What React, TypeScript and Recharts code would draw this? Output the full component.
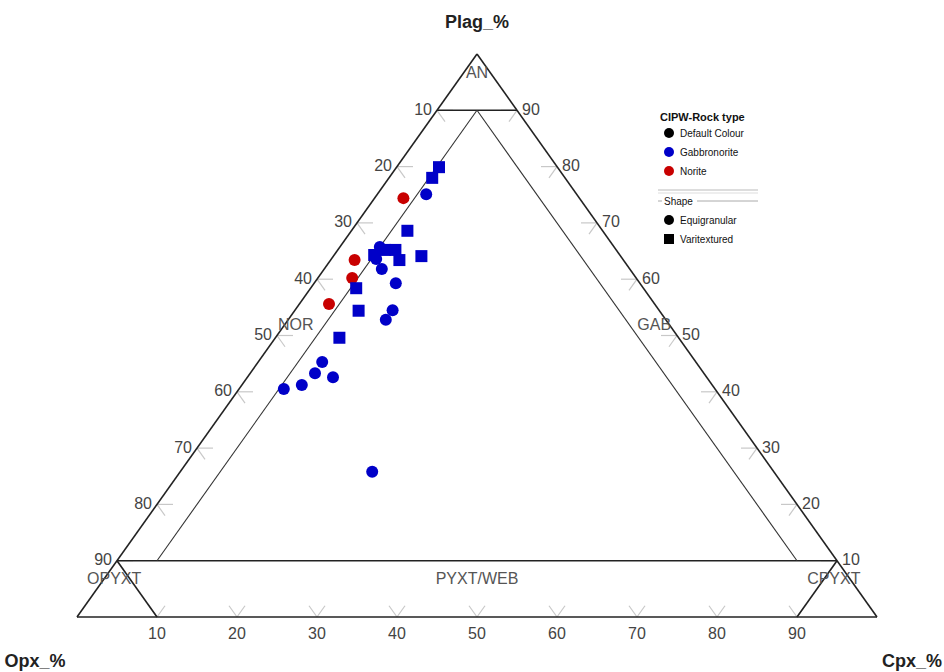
import React from 'react';
import { ScatterChart, Scatter, XAxis, YAxis, ReferenceLine, ReferenceDot } from 'recharts';

// Ternary values: Plag, Opx, Cpx (%)
const noriteEquigranular = [
  { plag: 74.4, opx: 22.0, cpx: 3.6 },
  { plag: 63.4, opx: 33.6, cpx: 3.0 },
  { plag: 60.2, opx: 35.5, cpx: 4.3 },
  { plag: 55.6, opx: 40.7, cpx: 3.7 },
];

const gabbronoriteEquigranular = [
  { plag: 75.1, opx: 18.8, cpx: 6.1 },
  { plag: 65.7, opx: 29.3, cpx: 5.0 },
  { plag: 63.6, opx: 30.8, cpx: 5.6 },
  { plag: 61.8, opx: 31.0, cpx: 7.2 },
  { plag: 59.3, opx: 30.5, cpx: 10.2 },
  { plag: 54.5, opx: 33.3, cpx: 12.2 },
  { plag: 52.8, opx: 35.0, cpx: 12.2 },
  { plag: 45.3, opx: 46.7, cpx: 8.0 },
  { plag: 43.3, opx: 48.6, cpx: 8.1 },
  { plag: 42.6, opx: 46.7, cpx: 10.7 },
  { plag: 41.2, opx: 51.3, cpx: 7.5 },
  { plag: 40.5, opx: 53.9, cpx: 5.6 },
  { plag: 25.8, opx: 50.2, cpx: 24.0 },
];

const gabbronoriteVaritextured = [
  { plag: 79.9, opx: 14.8, cpx: 5.3 },
  { plag: 78.0, opx: 16.6, cpx: 5.4 },
  { plag: 68.6, opx: 24.4, cpx: 7.0 },
  { plag: 64.3, opx: 30.7, cpx: 5.0 },
  { plag: 65.2, opx: 28.9, cpx: 5.9 },
  { plag: 65.2, opx: 27.6, cpx: 7.2 },
  { plag: 63.4, opx: 28.0, cpx: 8.6 },
  { plag: 64.1, opx: 24.9, cpx: 11.0 },
  { plag: 58.4, opx: 35.9, cpx: 5.7 },
  { plag: 54.4, opx: 37.6, cpx: 8.0 },
  { plag: 49.6, opx: 42.4, cpx: 8.0 },
];

// Axis tick labels
const opxTicks = [10, 20, 30, 40, 50, 60, 70, 80, 90];
const plagTicks = [10, 20, 30, 40, 50, 60, 70, 80, 90];
const cpxTicks = [10, 20, 30, 40, 50, 60, 70, 80, 90];

// Field boundaries as ternary end points [plag, opx, cpx]
const boundaryLines = [
  { a: [100, 0, 0], b: [0, 100, 0], outer: true },
  { a: [0, 100, 0], b: [0, 0, 100], outer: true },
  { a: [0, 0, 100], b: [100, 0, 0], outer: true },
  { a: [90, 10, 0], b: [90, 0, 10], outer: true },
  { a: [10, 90, 0], b: [10, 0, 90], outer: true },
  { a: [90, 5, 5], b: [10, 85, 5], outer: false },
  { a: [90, 5, 5], b: [10, 5, 85], outer: false },
  { a: [10, 90, 0], b: [0, 90, 10], outer: true },
  { a: [10, 0, 90], b: [0, 10, 90], outer: true },
];

// Field names, placed by ternary position [plag, opx, cpx]
const fieldNames = [
  { text: 'AN', t: [96.8, 1.6, 1.6] },
  { text: 'NOR', t: [51.9, 46.7, 1.4] },
  { text: 'GAB', t: [51.9, 1.9, 46.2] },
  { text: 'OPYXT', t: [6.9, 91.9, 1.2] },
  { text: 'PYXT/WEB', t: [6.9, 46.55, 46.55] },
  { text: 'CPYXT', t: [6.9, 1.95, 91.15] },
];

const toXY = (plag: number, opx: number, cpx: number) => {
  const s = plag + opx + cpx;
  const p = (plag / s) * 100;
  const c = (cpx / s) * 100;
  return { x: c + p / 2, y: p };
};
const tXY = (t: number[]) => toXY(t[0], t[1], t[2]);
const pts = (arr: { plag: number; opx: number; cpx: number }[]) =>
  arr.map((d) => toXY(d.plag, d.opx, d.cpx));

const BLUE = '#0000c8';
const RED = '#c80000';
const TICK = '#c8c8c8';
const FONT = '"Liberation Sans", Arial, sans-serif';

const W = 944;
const H = 672;
const margin = { top: 54, right: 67, bottom: 55, left: 77 };

const Circle = (color: string) => (props: any) =>
  <circle cx={props.cx} cy={props.cy} r={6} fill={color} />;
const Square = (color: string) => (props: any) =>
  <rect x={props.cx - 6} y={props.cy - 6} width={12} height={12} fill={color} />;

const textShape =
  (text: string, opts: { dx?: number; dy?: number; anchor?: string; size?: number; weight?: string; color?: string }) =>
  (props: any) =>
    (
      <text
        x={props.cx + (opts.dx || 0)}
        y={props.cy + (opts.dy || 0)}
        textAnchor={opts.anchor || 'middle'}
        dominantBaseline="central"
        fontFamily={FONT}
        fontSize={opts.size || 16}
        fontWeight={opts.weight || 'normal'}
        fill={opts.color || '#444'}
      >
        {text}
      </text>
    );

const seg = (a: { x: number; y: number }, b: { x: number; y: number }) => [a, b];

export default function App() {
  const tickSegs: { a: { x: number; y: number }; b: { x: number; y: number } }[] = [];
  opxTicks.forEach((v) => {
    const p = tXY([100 - v, v, 0]);
    tickSegs.push({ a: p, b: tXY([100 - v, v - 2, 2]) });
    tickSegs.push({ a: p, b: tXY([98 - v, v, 2]) });
  });
  plagTicks.forEach((v) => {
    const p = tXY([v, 0, 100 - v]);
    tickSegs.push({ a: p, b: tXY([v, 2, 98 - v]) });
    tickSegs.push({ a: p, b: tXY([v - 2, 2, 100 - v]) });
  });
  cpxTicks.forEach((v) => {
    const p = tXY([0, 100 - v, v]);
    tickSegs.push({ a: p, b: tXY([2, 100 - v, v - 2]) });
    tickSegs.push({ a: p, b: tXY([2, 98 - v, v]) });
  });

  return (
    <div style={{ position: 'absolute', left: 0, top: 0, width: W, height: H }}>
      <ScatterChart width={W} height={H} margin={margin}>
        <XAxis type="number" dataKey="x" domain={[0, 100]} hide allowDataOverflow />
        <YAxis type="number" dataKey="y" domain={[0, 100]} hide allowDataOverflow />
        {tickSegs.map((s, i) => (
          <ReferenceLine
            key={'t' + i}
            segment={seg(s.a, s.b)}
            stroke={TICK}
            strokeWidth={1.2}
            ifOverflow="visible"
          />
        ))}
        {boundaryLines.map((l, i) => (
          <ReferenceLine
            key={'b' + i}
            segment={seg(tXY(l.a), tXY(l.b))}
            stroke={l.outer ? '#222' : '#333'}
            strokeWidth={l.outer ? 1.6 : 1.1}
            ifOverflow="visible"
          />
        ))}
        {opxTicks.map((v) => {
          const p = tXY([100 - v, v, 0]);
          return (
            <ReferenceDot key={'lo' + v} x={p.x} y={p.y} ifOverflow="visible"
              shape={textShape(String(v), { dx: -5, dy: -1, anchor: 'end' })} />
          );
        })}
        {plagTicks.map((v) => {
          const p = tXY([v, 0, 100 - v]);
          return (
            <ReferenceDot key={'lp' + v} x={p.x} y={p.y} ifOverflow="visible"
              shape={textShape(String(v), { dx: 5, dy: -1, anchor: 'start' })} />
          );
        })}
        {cpxTicks.map((v) => {
          const p = tXY([0, 100 - v, v]);
          return (
            <ReferenceDot key={'lc' + v} x={p.x} y={p.y} ifOverflow="visible"
              shape={textShape(String(v), { dy: 16 })} />
          );
        })}
        {fieldNames.map((f) => {
          const p = tXY(f.t);
          return (
            <ReferenceDot key={'f' + f.text} x={p.x} y={p.y} ifOverflow="visible"
              shape={textShape(f.text, { color: '#555' })} />
          );
        })}
        <ReferenceDot x={50} y={100} ifOverflow="visible"
          shape={textShape('Plag_%', { dy: -32, size: 18, weight: 'bold', color: '#222' })} />
        <ReferenceDot x={0} y={0} ifOverflow="visible"
          shape={textShape('Opx_%', { dx: -42, dy: 44, size: 18, weight: 'bold', color: '#222' })} />
        <ReferenceDot x={100} y={0} ifOverflow="visible"
          shape={textShape('Cpx_%', { dx: 35, dy: 44, size: 18, weight: 'bold', color: '#222' })} />
        <Scatter name="Norite" data={pts(noriteEquigranular)} shape={Circle(RED)} isAnimationActive={false} />
        <Scatter name="Gabbronorite Equigranular" data={pts(gabbronoriteEquigranular)} shape={Circle(BLUE)} isAnimationActive={false} />
        <Scatter name="Gabbronorite Varitextured" data={pts(gabbronoriteVaritextured)} shape={Square(BLUE)} isAnimationActive={false} />
      </ScatterChart>
      <svg width={120} height={140} style={{ position: 'absolute', left: 653, top: 108 }}
        fontFamily={FONT}>
        <text x={7} y={9} fontSize={11} fontWeight="bold" fill="#111" dominantBaseline="central">CIPW-Rock type</text>
        <circle cx={16} cy={25} r={5} fill="#000" />
        <text x={27} y={25} fontSize={10} fill="#111" dominantBaseline="central">Default Colour</text>
        <circle cx={16} cy={44} r={5} fill={BLUE} />
        <text x={27} y={44} fontSize={10} fill="#111" dominantBaseline="central">Gabbronorite</text>
        <circle cx={16} cy={63} r={5} fill={RED} />
        <text x={27} y={63} fontSize={10} fill="#111" dominantBaseline="central">Norite</text>
        <line x1={5} x2={105} y1={82} y2={82} stroke="#bbb" strokeWidth={1} />
        <line x1={5} x2={105} y1={85} y2={85} stroke="#ddd" strokeWidth={1} />
        <line x1={5} x2={9} y1={93} y2={93} stroke="#aaa" strokeWidth={1} />
        <text x={11} y={93} fontSize={10} fill="#111" dominantBaseline="central">Shape</text>
        <line x1={44} x2={105} y1={93} y2={93} stroke="#aaa" strokeWidth={1} />
        <circle cx={16} cy={112} r={5} fill="#000" />
        <text x={27} y={112} fontSize={10} fill="#111" dominantBaseline="central">Equigranular</text>
        <rect x={11} y={126} width={10} height={10} fill="#000" />
        <text x={27} y={131} fontSize={10} fill="#111" dominantBaseline="central">Varitextured</text>
      </svg>
    </div>
  );
}
